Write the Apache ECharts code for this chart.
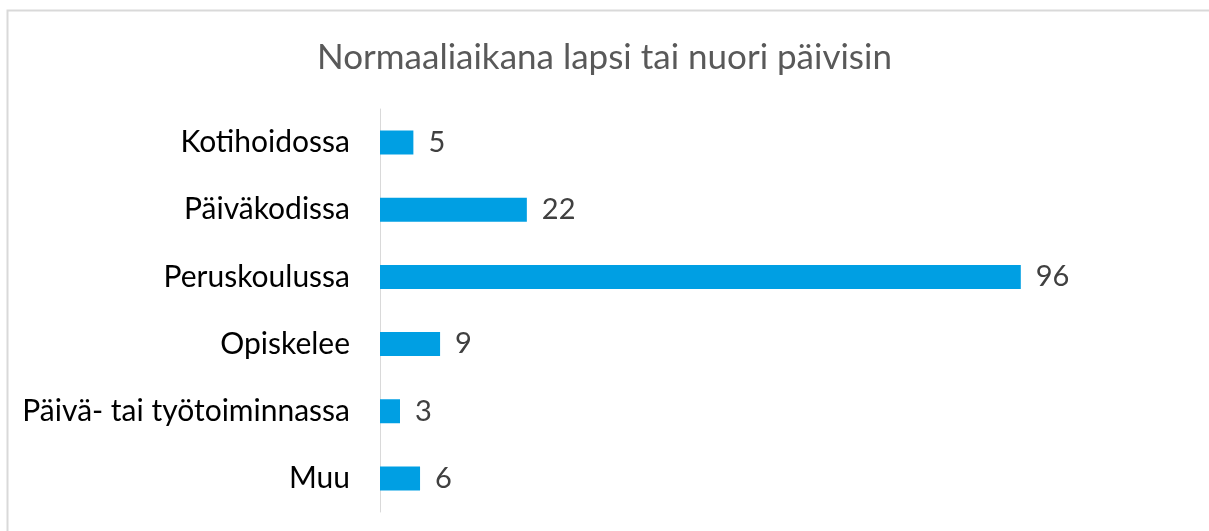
<!DOCTYPE html>
<html>
<head>
<meta charset="utf-8">
<script src="https://cdn.jsdelivr.net/npm/echarts@6/dist/echarts.min.js"></script>
<style>
  html, body { margin: 0; padding: 0; background: #fff; }
  #chart { width: 1209px; height: 531px; }
</style>
</head>
<body>
<div id="chart"></div>
<script>
// 数据
let categories = ['Kotihoidossa', 'Päiväkodissa', 'Peruskoulussa', 'Opiskelee', 'Päivä- tai työtoiminnassa', 'Muu'];
let values = [5, 22, 96, 9, 3, 6];
let title = 'Normaaliaikana lapsi tai nuori päivisin';

let mycharts = echarts.init(document.getElementById('chart'));
let option = {
  animation: false,
  graphic: [
    {
      type: 'rect',
      shape: { x: 7.5, y: 10.5, width: 1260, height: 560 },
      style: { fill: 'none', stroke: '#d9d9d9', lineWidth: 2 },
      silent: true
    }
  ],
  title: {
    text: title,
    left: 'center',
    top: 35,
    textStyle: { fontFamily: 'Lato', fontSize: 35, fontWeight: 'normal', color: '#595959' }
  },
  grid: { left: 380, right: 28, top: 109, bottom: 19, containLabel: false },
  xAxis: {
    type: 'value',
    min: 0,
    max: 120,
    show: false
  },
  yAxis: {
    type: 'category',
    data: categories,
    inverse: true,
    axisLine: { show: true, lineStyle: { color: '#d9d9d9', width: 1 } },
    axisTick: { show: false },
    axisLabel: { fontFamily: 'Lato', fontSize: 30, color: '#000', margin: 30 }
  },
  series: [
    {
      type: 'bar',
      data: values,
      barWidth: 24,
      itemStyle: { color: '#009fe3' },
      label: {
        show: true,
        position: 'right',
        distance: 15,
        fontFamily: 'Lato',
        fontSize: 29,
        color: '#404040'
      }
    }
  ]
};
option && mycharts.setOption(option);
</script>
</body>
</html>
